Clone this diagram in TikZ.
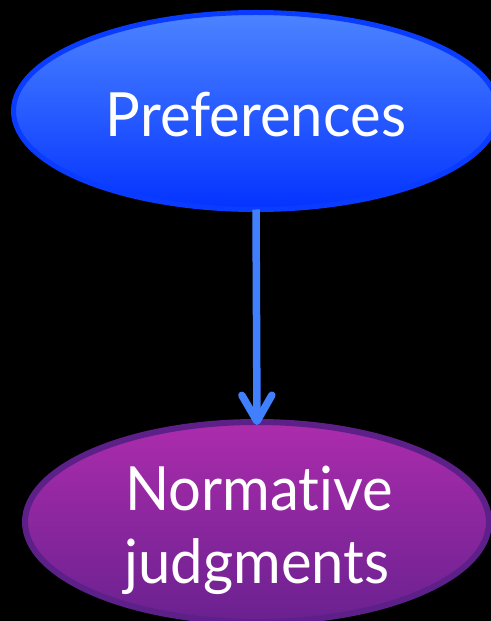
\documentclass[tikz,border=0pt]{standalone}
\usepackage{fontspec}
\setmainfont{Lato}[Ligatures=NoCommon, FakeStretch=0.95]
\usetikzlibrary{shapes.geometric,arrows.meta}
\definecolor{bluetop}{HTML}{4C84FF}
\definecolor{bluebot}{HTML}{0433FF}
\definecolor{blueline}{HTML}{0A3CFF}
\definecolor{purptop}{HTML}{AC2CAC}
\definecolor{purpbot}{HTML}{6A2190}
\definecolor{purpline}{HTML}{5C2088}
\definecolor{arrowblue}{HTML}{4080FF}
\tikzset{
  bubble/.style={ellipse, inner sep=0pt, outer sep=0pt},
  label text/.style={text=white, anchor=base, inner sep=0pt, font=\fontsize{61bp}{73bp}\selectfont},
  link/.style={draw=arrowblue, line width=7.5bp, -{Straight Barb[length=26bp, width=30bp, round, line width=7.5bp]}}
}
\begin{document}
\begin{tikzpicture}[x=1bp, y=-1bp]
\useasboundingbox (0,0) rectangle (491,621);
\fill[black] (0,0) rectangle (491,621);
\clip (0,0) rectangle (491,621);
\node[bubble, minimum width=485bp, minimum height=197bp, line width=5bp, draw=blueline, top color=bluetop, bottom color=bluebot] (pref) at (256,111) {};
\node[bubble, minimum width=464bp, minimum height=200bp, line width=6bp, draw=purpline, top color=purptop, bottom color=purpbot] (norm) at (257,522) {};
\node[label text] (preft) at (256,137) {Preferences};
\node[label text] (normt) at (259,510) {Normative};
\node[label text] (judgt) at (257,583) {judgments};
\draw[link, shorten >=-3bp] (pref.south) -- (norm.north);
\end{tikzpicture}
\end{document}
